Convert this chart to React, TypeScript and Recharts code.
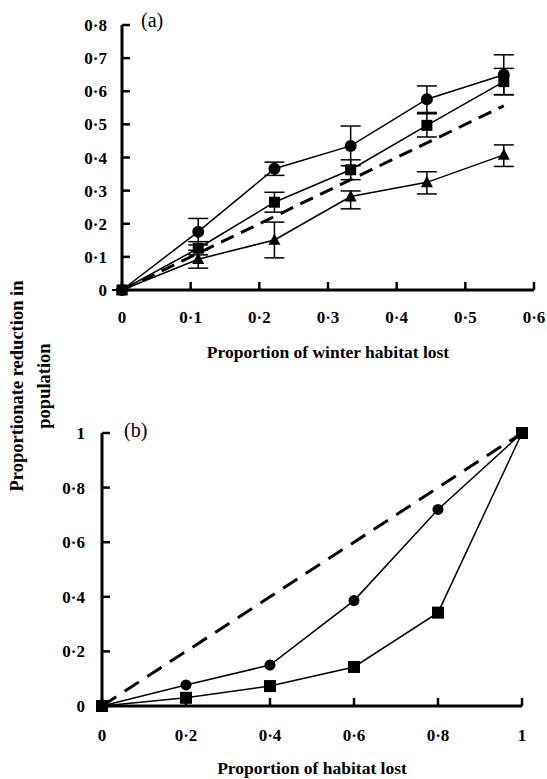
import React from "react";
import { LineChart, Line, XAxis, YAxis, ErrorBar, Label } from "recharts";

// panel (a): winter habitat loss
const xA = [0, 0.111, 0.222, 0.333, 0.444, 0.556];
const circleA = [0, 0.176, 0.366, 0.435, 0.576, 0.65];
const circleErrA = [[0, 0], [0.04, 0.04], [0.02, 0.02], [0.06, 0.06], [0.04, 0.04], [0.06, 0.06]];
const squareA = [0, 0.126, 0.265, 0.363, 0.497, 0.629];
const squareErrA = [[0, 0], [0.02, 0.02], [0.03, 0.03], [0.03, 0.03], [0.035, 0.035], [0.04, 0.04]];
const triangleA = [0, 0.093, 0.151, 0.282, 0.325, 0.408];
const triangleErrA = [[0, 0], [0.027, 0.027], [0.054, 0.054], [0.037, 0.017], [0.035, 0.032], [0.035, 0.03]];
const dashedA = [0, 0.111, 0.222, 0.333, 0.444, 0.556];
const xTicksA = [0, 0.1, 0.2, 0.3, 0.4, 0.5, 0.6];
const yTicksA = [0, 0.1, 0.2, 0.3, 0.4, 0.5, 0.6, 0.7, 0.8];

// panel (b): habitat loss
const xB = [0, 0.2, 0.4, 0.6, 0.8, 1];
const circleB = [0, 0.077, 0.15, 0.386, 0.72, 1];
const squareB = [0, 0.03, 0.073, 0.143, 0.342, 1];
const dashedB = [0, 0.2, 0.4, 0.6, 0.8, 1];
const xTicksB = [0, 0.2, 0.4, 0.6, 0.8, 1];
const yTicksB = [0, 0.2, 0.4, 0.6, 0.8, 1];

const rowsA = xA.map((x, i) => ({
  x,
  circle: circleA[i],
  circleErr: circleErrA[i],
  square: squareA[i],
  squareErr: squareErrA[i],
  triangle: triangleA[i],
  triangleErr: triangleErrA[i],
  dashed: dashedA[i],
}));

const rowsB = xB.map((x, i) => ({
  x,
  circle: circleB[i],
  square: squareB[i],
  dashed: dashedB[i],
}));

const serif = '"Liberation Serif", "Times New Roman", serif';
const fmt = (v: number) => String(v).replace(".", "·");
const tickStyle = { fill: "#000", fontSize: 17, fontWeight: "bold", fontFamily: serif };
const titleStyle = { fill: "#000", fontSize: 17.5, fontWeight: "bold", fontFamily: serif };

const circleDot = (r: number) => (p: any) => (
  <circle key={`c-${p.index}`} cx={p.cx} cy={p.cy} r={r} fill="#000" />
);
const squareDot = (s: number) => (p: any) => (
  <rect key={`s-${p.index}`} x={p.cx - s / 2} y={p.cy - s / 2} width={s} height={s} fill="#000" />
);
const triangleDot = (s: number) => (p: any) => (
  <polygon
    key={`t-${p.index}`}
    points={`${p.cx},${p.cy - s * 0.55} ${p.cx - s / 2},${p.cy + s * 0.4} ${p.cx + s / 2},${p.cy + s * 0.4}`}
    fill="#000"
  />
);

const axisLine = { stroke: "#000", strokeWidth: 3 };
const tickLine = { stroke: "#000", strokeWidth: 2.5 };

export default function App() {
  return (
    <div style={{ position: "absolute", left: 0, top: 0, width: 547, height: 779, background: "#fff", fontFamily: serif }}>
      <div
        style={{
          position: "absolute",
          left: 31 - 140,
          top: 386 - 27,
          width: 280,
          height: 54,
          lineHeight: "27px",
          transform: "rotate(-90deg)",
          textAlign: "center",
          fontWeight: "bold",
          fontSize: 18.5,
          color: "#000",
        }}
      >
        Proportionate reduction in
        <br />
        population
      </div>

      <div style={{ position: "absolute", left: 0, top: 0 }}>
        <LineChart width={547} height={370} data={rowsA} margin={{ top: 25, right: 13, bottom: 0, left: 0 }}>
          <XAxis
            dataKey="x"
            type="number"
            domain={[0, 0.6]}
            ticks={xTicksA}
            tickFormatter={fmt}
            tick={tickStyle}
            tickSize={-8}
            tickMargin={29}
            axisLine={axisLine}
            tickLine={tickLine}
            height={80}
          >
            <Label value="Proportion of winter habitat lost" position="insideBottom" offset={12} style={titleStyle} />
          </XAxis>
          <YAxis
            type="number"
            domain={[0, 0.8]}
            ticks={yTicksA}
            tickFormatter={fmt}
            tick={tickStyle}
            tickSize={-8}
            tickMargin={23}
            axisLine={axisLine}
            tickLine={tickLine}
            width={122}
          />
          <Line dataKey="dashed" stroke="#000" strokeWidth={3} strokeDasharray="14 8" dot={false} isAnimationActive={false} />
          <Line dataKey="triangle" stroke="#000" strokeWidth={1.5} dot={triangleDot(12)} isAnimationActive={false}>
            <ErrorBar dataKey="triangleErr" direction="y" width={10} stroke="#000" strokeWidth={1.5} />
          </Line>
          <Line dataKey="square" stroke="#000" strokeWidth={1.5} dot={squareDot(11)} isAnimationActive={false}>
            <ErrorBar dataKey="squareErr" direction="y" width={10} stroke="#000" strokeWidth={1.5} />
          </Line>
          <Line dataKey="circle" stroke="#000" strokeWidth={1.5} dot={circleDot(6)} isAnimationActive={false}>
            <ErrorBar dataKey="circleErr" direction="y" width={10} stroke="#000" strokeWidth={1.5} />
          </Line>
        </LineChart>
      </div>
      <div style={{ position: "absolute", left: 141, top: 9, fontSize: 20, color: "#000" }}>(a)</div>

      <div style={{ position: "absolute", left: 0, top: 420 }}>
        <LineChart width={547} height={359} data={rowsB} margin={{ top: 13, right: 25, bottom: 0, left: 0 }}>
          <XAxis
            dataKey="x"
            type="number"
            domain={[0, 1]}
            ticks={xTicksB}
            tickFormatter={fmt}
            tick={tickStyle}
            tickSize={-8}
            tickMargin={31}
            axisLine={axisLine}
            tickLine={tickLine}
            height={73}
          >
            <Label value="Proportion of habitat lost" position="insideBottom" offset={5} style={titleStyle} />
          </XAxis>
          <YAxis
            type="number"
            domain={[0, 1]}
            ticks={yTicksB}
            tickFormatter={fmt}
            tick={tickStyle}
            tickSize={-8}
            tickMargin={25}
            axisLine={axisLine}
            tickLine={tickLine}
            width={102}
          />
          <Line dataKey="dashed" stroke="#000" strokeWidth={3} strokeDasharray="17 10" dot={false} isAnimationActive={false} />
          <Line dataKey="square" stroke="#000" strokeWidth={1.5} dot={squareDot(12)} isAnimationActive={false} />
          <Line dataKey="circle" stroke="#000" strokeWidth={1.5} dot={circleDot(5.5)} isAnimationActive={false} />
        </LineChart>
      </div>
      <div style={{ position: "absolute", left: 124, top: 419, fontSize: 20, color: "#000" }}>(b)</div>
    </div>
  );
}
